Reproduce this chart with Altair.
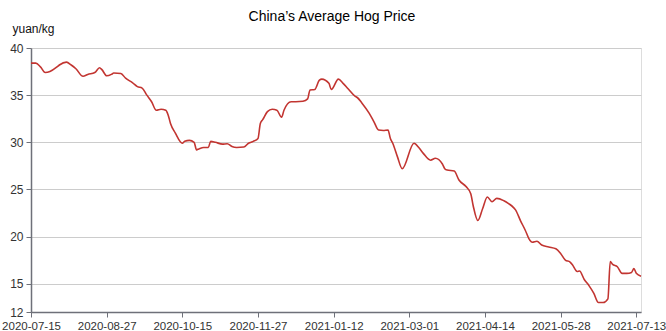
import altair as alt
import pandas as pd

# Category position (trading-day index along the axis) and price
day_index = [0, 2, 4, 6, 8, 11, 12, 15, 17, 19, 22, 24, 27, 29, 30, 32, 34, 35, 38, 40,
             43, 45, 47, 49, 51, 53, 55, 57, 58, 59, 61, 64, 65, 67, 69, 70, 71, 73, 75, 76,
             78, 81, 83, 85, 87, 90, 92, 94, 96, 97, 98, 100, 102, 104, 106, 107, 110, 112, 115, 117,
             118, 120, 122, 123, 126, 127, 130, 132, 134, 137, 138, 140, 143, 145, 147, 149, 151, 152, 153, 155,
             157, 162, 164, 166, 169, 171, 174, 175, 176, 179, 181, 184, 186, 187, 189, 191, 193, 195, 197, 200,
             202, 204, 205, 207, 209, 211, 212, 214, 216, 219, 222, 224, 226, 228, 229, 231, 232, 234, 236, 238,
             240, 242, 244, 245, 246, 248, 250, 252, 254, 255, 256, 258]
price = [38.4, 38.4, 38.0, 37.4, 37.5, 38.0, 38.2, 38.5, 38.2, 37.8, 37.0, 37.2, 37.4, 37.9, 37.7, 37.05, 37.2, 37.35, 37.3, 36.8,
         36.3, 35.9, 35.75, 35.0, 34.3, 33.4, 33.5, 33.4, 32.9, 32.0, 31.0, 29.9, 30.1, 30.2, 30.0, 29.2, 29.3, 29.45, 29.45, 30.1,
         30.0, 29.8, 29.85, 29.55, 29.45, 29.5, 29.9, 30.1, 30.4, 32.0, 32.4, 33.25, 33.5, 33.4, 32.65, 33.4, 34.3, 34.3, 34.35, 34.6,
         35.55, 35.6, 36.6, 36.7, 36.25, 35.6, 36.7, 36.25, 35.7, 34.9, 34.75, 34.15, 33.1, 32.2, 31.3, 31.25, 31.3, 30.4, 29.9, 28.45,
         27.2, 29.9, 29.45, 28.8, 28.1, 28.3, 27.7, 27.2, 27.05, 26.95, 26.0, 25.3, 24.55, 23.3, 21.7, 22.95, 24.2, 23.7, 24.05, 23.8,
         23.5, 23.1, 22.8, 21.7, 20.7, 19.6, 19.4, 19.5, 19.1, 18.9, 18.7, 18.2, 17.5, 17.3, 17.0, 16.3, 16.35, 15.45, 14.8, 14.0,
         13.0, 13.0, 13.4, 17.35, 17.05, 16.8, 16.1, 16.1, 16.2, 16.6, 16.1, 15.8]

tick_labels = ["2020-07-15", "2020-08-27", "2020-10-15", "2020-11-27", "2021-01-12",
               "2021-03-01", "2021-04-14", "2021-05-28", "2021-07-13"]
tick_every = 32
last_index = 258
y_ticks = [12, 15, 20, 25, 30, 35, 40]

df = pd.DataFrame({"idx": day_index, "price": price})

label_array = "[" + ",".join("'" + t + "'" for t in tick_labels) + "]"
label_expr = label_array + "[round(datum.value / " + str(tick_every) + ")]"

FONT = "Liberation Sans"

chart = alt.Chart(df).mark_line(
    color="#c23531", strokeWidth=1.6, interpolate="monotone"
).encode(
    x=alt.X("idx:Q",
            scale=alt.Scale(domain=[0, last_index], nice=False, zero=False),
            axis=alt.Axis(values=[i * tick_every for i in range(len(tick_labels))],
                          labelExpr=label_expr, title=None, grid=False,
                          domainColor="#6e7079", domainWidth=1.5,
                          tickColor="#6e7079", tickSize=5,
                          labelColor="#333333", labelFontSize=11.5, labelFont=FONT,
                          labelPadding=3, labelOverlap=False, labelFlush=False)),
    y=alt.Y("price:Q",
            scale=alt.Scale(domain=[12, 40], nice=False, zero=False),
            axis=alt.Axis(values=y_ticks, title="yuan/kg", titleAngle=0,
                          titleX=-19, titleY=-16, titleAlign="left",
                          titleBaseline="alphabetic", titleFontSize=12,
                          titleFontWeight="normal", titleFont=FONT, titleColor="#111111",
                          grid=True, gridColor="#cccccc", gridWidth=1,
                          domainColor="#6e7079", domainWidth=1.5,
                          tickColor="#6e7079", tickSize=5,
                          labelColor="#333333", labelFontSize=12, labelFont=FONT,
                          labelPadding=3)),
).properties(
    width=610, height=264,
    title=alt.TitleParams("China\u2019s Average Hog Price", fontSize=14, font=FONT,
                          fontWeight="normal", color="#000000", anchor="middle",
                          offset=4, dx=-4, dy=17, baseline="alphabetic"),
    padding={"left": 31, "top": 48, "right": 25, "bottom": 19},
    autosize=alt.AutoSizeParams(type="none"),
).configure_view(stroke=None).configure(background="white")

chart.save("out.html", embed_options={"renderer": "svg", "actions": False})
